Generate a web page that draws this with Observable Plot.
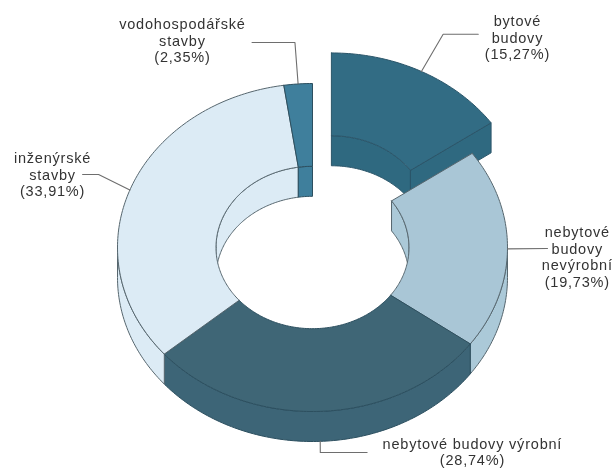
<!DOCTYPE html>
<html><head><meta charset="utf-8">
<script src="https://cdn.jsdelivr.net/npm/d3@7"></script>
<script src="https://cdn.jsdelivr.net/npm/@observablehq/plot@0.6"></script>
<style>html,body{margin:0;padding:0;background:#fff}svg{display:block;filter:blur(.55px)}svg text{letter-spacing:.8px}</style>
</head><body><div id="chart"></div>
<script>
// Data
const categories = ["bytové budovy","nebytové budovy nevýrobní","nebytové budovy výrobní","inženýrské stavby","vodohospodářské stavby"];
const shares = [15.27,19.73,28.74,33.91,2.35];
const labels = ["bytové\nbudovy\n(15,27%)","nebytové\nbudovy\nnevýrobní\n(19,73%)","nebytové budovy výrobní\n(28,74%)","inženýrské\nstavby\n(33,91%)","vodohospodářské\nstavby\n(2,35%)"];
const topColors = ["#326c84","#a9c6d6","#3f6676","#dcebf5","#3f7f9c"];
const wallColors = ["#2f6980","#abc9d8","#3d6577","#dcebf5","#3f7f9c"];
const exploded = [0.21,0,0,0,0];

// Layout (in chart units: outer radius = 1)
const W = 613, H = 469, CX = 312, CY = 247, RX = 195, RY = 164;
const inner = 0.495, depth = 30/RY;
const labelPos = [[1.051,1.28],[1.358,-0.055],[0.82,-1.245],[-1.333,0.445],[-0.667,1.263]];
// leader: [elbow x, elbow y, end x, end y]
const leaderTail = [[0.67,1.30,0.85,1.30],[null,null,1.205,-0.006],[0.04,-1.25,0.28,-1.25],[-1.097,0.445,-1.179,0.445],[-0.09,1.25,-0.31,1.25]];

let acc = 0;
const slices = shares.map((v,i)=>{
  const a0 = acc/100*360; acc += v; const a1 = acc/100*360;
  const mid = (a0+a1)/2*Math.PI/180;
  const e = exploded[i];
  return {i,a0,a1,mid,dx:e*Math.sin(mid),dy:e*Math.cos(mid)};
});
const pt = (s,r,a,z=0)=>{const t=a*Math.PI/180;return {x:s.dx+r*Math.sin(t),y:s.dy+r*Math.cos(t)-z};};
const arc = (s,r,a0,a1,z=0)=>{
  const n=Math.max(2,Math.ceil(Math.abs(a1-a0)));
  return d3.range(n+1).map(k=>pt(s,r,a0+(a1-a0)*k/n,z));
};
const polys=[];
let id=0;
const add=(pts,fill,stroke)=>{id++;const c=[...pts,pts[0]];c.forEach(p=>polys.push({...p,id,fill,stroke}));};
const edge="#56666e";
const clip=(a0,a1,lo,hi)=>[Math.max(a0,lo),Math.min(a1,hi)];
function band(s,r,lo,hi,fill,stroke){
  const [a,b]=clip(s.a0,s.a1,lo,hi);
  if(b<=a) return;
  add([...arc(s,r,a,b),...arc(s,r,b,a,depth)],fill,stroke);
}
function topFace(s,fill,stroke){
  add([...arc(s,1,s.a0,s.a1),...arc(s,inner,s.a1,s.a0)],fill,stroke);
}
const strokeOf=i=>(i===0||i===2||i===4)?"#2c4f5f":edge;
// exploded back slice first
{
  const s=slices[0];
  band(s,inner,0,90,wallColors[0],"#2b5569");
  add([pt(s,inner,s.a1),pt(s,1,s.a1),pt(s,1,s.a1,depth),pt(s,inner,s.a1,depth)],wallColors[0],"#2b5569");
  topFace(s,topColors[0],"#2b5569");
}
// hole walls (far side), then outer walls (near side), then top faces
slices.slice(1).forEach(s=>{band(s,inner,0,90,wallColors[s.i],strokeOf(s.i));band(s,inner,270,360,wallColors[s.i],strokeOf(s.i));});
slices.slice(1).forEach(s=>band(s,1,90,270,wallColors[s.i],strokeOf(s.i)));
slices.slice(1).forEach(s=>topFace(s,topColors[s.i],strokeOf(s.i)));

// leader lines start on each slice's outer rim at its mid-angle
const leaders=[];
slices.forEach((s,i)=>{
  const z = Math.cos(s.mid)<-0.5 ? depth : 0;
  const a=pt(s,1,s.mid*180/Math.PI,z);
  const [ex,ey,tx,ty]=leaderTail[i];
  const pts=[a];
  if(ex!==null) pts.push({x:ex,y:ey});
  pts.push({x:tx,y:ty});
  pts.forEach(p=>leaders.push({...p,i}));
});
const labelData=labels.map((t,i)=>({t,x:labelPos[i][0],y:labelPos[i][1]}));

const chart=Plot.plot({
  width:W,height:H,margin:0,
  x:{domain:[-CX/RX,(W-CX)/RX],range:[0,W],axis:null},
  y:{domain:[(CY-H)/RY,CY/RY],range:[H,0],axis:null},
  marks:[
    Plot.line(polys,{x:"x",y:"y",z:"id",fill:"fill",stroke:"stroke",strokeWidth:1,strokeLinejoin:"round",curve:"linear"}),
    Plot.line(leaders,{x:"x",y:"y",z:"i",stroke:"#6e6e6e",strokeWidth:1.1,curve:"linear"}),
    Plot.text(labelData,{x:"x",y:"y",text:"t",fontSize:14.5,lineHeight:16.5/14.5,fill:"#333333",textAnchor:"middle",fontFamily:"Liberation Sans, Arial, sans-serif"})
  ]
});
document.getElementById("chart").appendChild(chart);
</script></body></html>
